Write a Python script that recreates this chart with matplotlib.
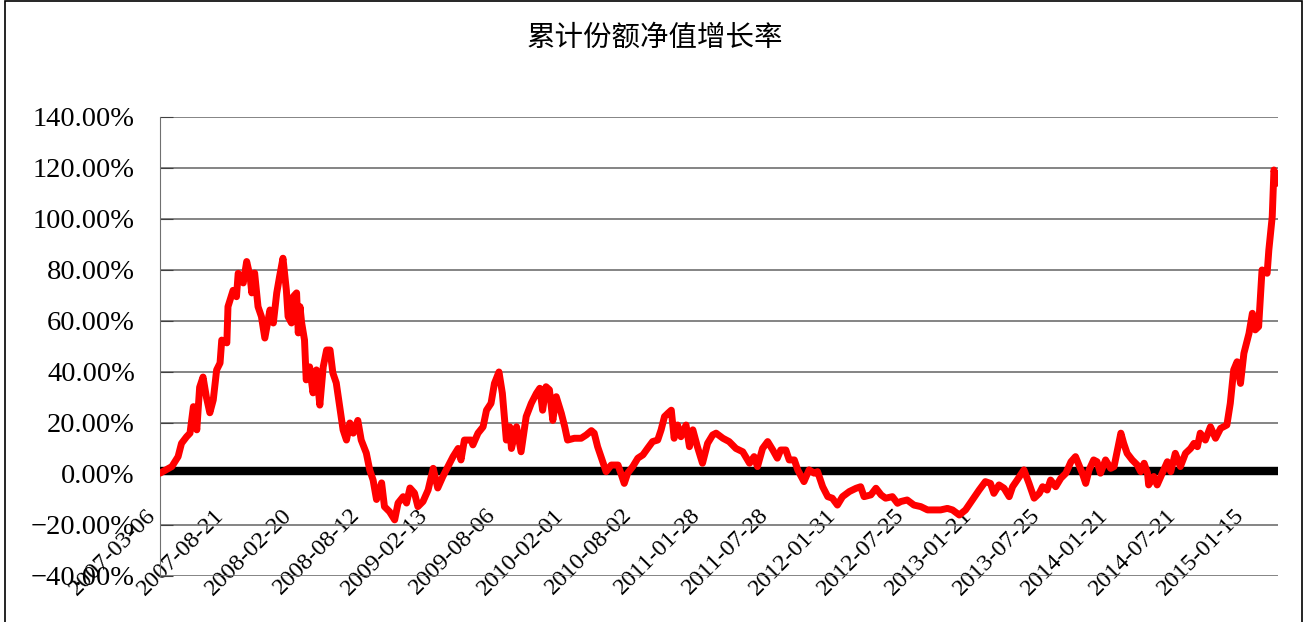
import matplotlib.pyplot as plt
from matplotlib.patches import Rectangle

plt.rcParams['font.family'] = ['Liberation Serif', 'Noto Sans CJK SC']

title = '累计份额净值增长率'

# x labels, one every 120 trading days
tick_dates = ['2007-03-06', '2007-08-21', '2008-02-20', '2008-08-12', '2009-02-13',
              '2009-08-06', '2010-02-01', '2010-08-02', '2011-01-28', '2011-07-28',
              '2012-01-31', '2012-07-25', '2013-01-21', '2013-07-25', '2014-01-21',
              '2014-07-21', '2015-01-15']
tick_step = 120
n_days = 1972

# trading day index and growth rate (%)
day_idx = [0, 21, 32, 38, 47, 53, 59, 65, 70, 76, 82, 88, 94, 100, 106, 109, 118, 120,
           129, 135, 138, 147, 153, 159, 162, 167, 173, 179, 185, 194, 200, 206, 211,
           217, 223, 226, 232, 235, 241, 244, 247, 250, 255, 258, 264, 270, 276, 282,
           288, 294, 300, 305, 311, 317, 323, 329, 335, 341, 349, 355, 364, 370, 376,
           382, 391, 396, 405, 414, 420, 429, 435, 441, 449, 455, 464, 473, 482, 490,
           499, 508, 517, 526, 531, 537, 549, 552, 561, 570, 576, 584, 590, 598, 604,
           611, 617, 620, 629, 637, 646, 655, 664, 670, 675, 681, 687, 693, 699, 708,
           714, 719, 731, 743, 752, 761, 766, 772, 778, 787, 796, 808, 813, 819, 825,
           834, 843, 852, 860, 869, 878, 884, 890, 896, 902, 907, 913, 919, 928, 934,
           940, 948, 957, 966, 975, 981, 993, 1004, 1016, 1028, 1040, 1048, 1054, 1063,
           1072, 1081, 1089, 1095, 1104, 1110, 1119, 1125, 1136, 1145, 1154, 1160, 1169,
           1178, 1186, 1195, 1204, 1216, 1228, 1236, 1242, 1254, 1263, 1272, 1280, 1292,
           1301, 1307, 1318, 1330, 1342, 1354, 1366, 1377, 1389, 1398, 1410, 1421, 1433,
           1445, 1456, 1465, 1471, 1480, 1489, 1498, 1504, 1512, 1524, 1533, 1542, 1551,
           1557, 1565, 1571, 1580, 1589, 1598, 1607, 1615, 1621, 1627, 1633, 1639, 1647,
           1653, 1659, 1668, 1677, 1683, 1689, 1695, 1700, 1706, 1715, 1724, 1730, 1736,
           1742, 1744, 1753, 1759, 1768, 1777, 1783, 1791, 1800, 1809, 1818, 1824, 1830,
           1835, 1844, 1853, 1862, 1871, 1882, 1888, 1894, 1900, 1906, 1912, 1921, 1927,
           1932, 1938, 1944, 1953, 1956, 1962, 1965, 1971]
growth = [0.3, 2.9, 6.8, 12, 14.6, 16, 26.4, 17.3, 34, 38, 30, 24, 29, 40.8, 43.5, 52.5,
          51.4, 65.6, 72, 69.5, 78.7, 74.9, 83.3, 77.4, 71, 78.8, 65.6, 61.7, 53.3, 64.3,
          59.2, 71, 77.4, 84.6, 72, 61.7, 59.2, 69.5, 71, 55.3, 65.6, 59.2, 52.5, 36.9,
          42, 31.8, 40.8, 27, 42, 48.6, 48.6, 39.6, 35.7, 26.4, 17.3, 13.3, 20, 16, 21,
          13.3, 8.2, 1.6, -2.4, -10, -3.5, -12.8, -14.8, -18, -11.4, -8.9, -11.4, -5.5,
          -7.5, -12.8, -10.8, -6.3, 2.2, -5.5, -1, 2.9, 6.8, 10, 5.5, 13.3, 13.3, 11.4,
          16, 18.5, 25, 27.7, 35.5, 40, 31.6, 13.3, 18.5, 10, 18.5, 8.7, 22.5, 27.7, 31.6,
          33.6, 25, 34.2, 33, 21, 30.3, 23.8, 18.5, 13.3, 14, 14, 15.3, 17, 16, 10.7, 6.8,
          0.9, 3.5, 3.5, 0.3, -3.7, 0.3, 2.9, 6.2, 7.5, 10, 12.7, 13.3, 17.3, 22.5, 23.8,
          25, 14, 19.2, 14.6, 19.2, 10.7, 17.3, 10.7, 4.2, 12, 15.3, 16, 14, 12.7, 10,
          8.7, 4.2, 6.8, 2.9, 10, 12.7, 9.4, 6.2, 9.4, 9.4, 5.5, 5.5, 1.6, -3, 1.6, 0.3,
          0.9, -5, -8.9, -9.5, -12.2, -8.9, -6.9, -5.6, -5, -8.9, -8.2, -5.6, -8.2, -9.5,
          -8.9, -11.5, -10.8, -10.2, -12.2, -12.8, -14.1, -14.1, -14.1, -13.5, -14.1,
          -16.1, -14.1, -10.2, -6.3, -3, -3.7, -7.6, -4.3, -5.6, -8.9, -5, -2.4, 1.6,
          -3.7, -9.5, -7.6, -5, -6.3, -2.4, -5, -1.7, 0.3, 4.8, 6.8, 3.5, 0.3, -3.7, 1.6,
          5.5, 4.8, 0.3, 5.5, 2.2, 2.9, 9.4, 16, 12, 8.1, 5.5, 3.5, 0.9, 4.2, 0.3, -4.3,
          -1, -4.3, 0.3, 4.8, 0.9, 8.1, 2.9, 8.1, 10, 12, 10.7, 16, 13.3, 18.5, 14, 17.9,
          19.2, 27.7, 40.8, 44, 35.5, 47.3, 55.1, 63, 56.5, 57.8, 80, 78.7, 87.8, 100.9,
          119.2, 114]

y_ticks = [-40, -20, 0, 20, 40, 60, 80, 100, 120, 140]

fig = plt.figure(figsize=(13.1, 6.22), dpi=100)
ax = fig.add_axes([0.1221, 0.074, 0.8534, 0.738])

# category axis sits at 0 (set this first, it resets the ticks)
ax.spines['bottom'].set_position(('data', 0))
ax.spines['bottom'].set_visible(False)
ax.spines['top'].set_visible(False)
ax.spines['right'].set_visible(False)
ax.spines['left'].set_color('#707070')

ax.plot(day_idx, growth, color='red', lw=5, solid_joinstyle='round',
        solid_capstyle='round', zorder=4)

# dense category tick marks on the axis at 0
ax.axhspan(0, 2.8, color='black', zorder=3)

ax.set_xlim(0, n_days)
ax.set_ylim(-40, 140)

ax.set_yticks(y_ticks)
ax.set_yticklabels([f'{v:.2f}%'.replace('-', '\u2212') for v in y_ticks], fontsize=20.5)
ax.yaxis.grid(True, color='#707070', lw=1.2)
ax.set_axisbelow(True)
ax.tick_params(axis='y', direction='in', length=9, color='#404040', pad=18)

ax.set_xticks([tick_step * i for i in range(len(tick_dates))])
ax.set_xticklabels(tick_dates, rotation=45, ha='right', va='top', fontsize=17.5)
ax.tick_params(axis='x', length=0, pad=22)

fig.text(0.5, 0.94, title, ha='center', va='center', fontsize=20.5,
         family='Noto Sans CJK SC')

fig.patches.append(Rectangle((5 / 1310, -0.05), 1297 / 1310, 1.048,
                             transform=fig.transFigure, fill=False,
                             edgecolor='black', lw=1.2))

fig.savefig('out.png')
